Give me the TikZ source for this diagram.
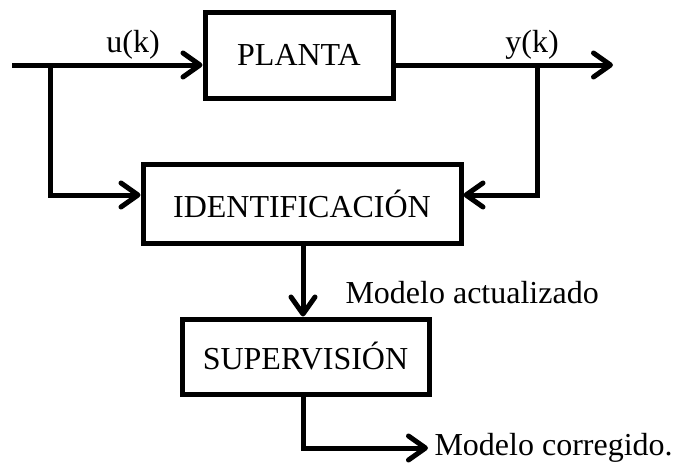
\documentclass[tikz,border=0pt]{standalone}
\usepackage{fontspec}
\setmainfont{Liberation Serif}
\usetikzlibrary{arrows.meta}
\begin{document}
\begin{tikzpicture}[x=1pt,y=-1pt, line width=5pt,
  blockbox/.style={draw, line width=5pt, inner sep=0pt, font=\fontsize{32}{38}\selectfont},
  lbl/.style={font=\fontsize{32}{38}\selectfont, inner sep=0pt},
  arr/.style={-{Straight Barb[length=17pt,width=24pt,line cap=round,line join=round]}}]
\useasboundingbox (0,0) rectangle (683,471);
\node[blockbox, minimum width=188pt, minimum height=86pt] (plant) at (299,55) {PLANTA};
\node[blockbox, minimum width=318pt, minimum height=79pt, text depth=-14pt] (ident) at (302,203.5) {IDENTIFICACIÓN};
\node[blockbox, minimum width=247pt, minimum height=75pt] (super) at (305.5,356.5) {SUPERVISIÓN};
\coordinate (in) at (12,65);
\coordinate (bl) at (50,65);
\coordinate (br) at (537,65);
\coordinate (out) at (613,65);
\coordinate (bly) at (50,195);
\coordinate (bry) at (537,195);
\coordinate (corner) at (303,448);
\coordinate (fin) at (428,448);
\draw[arr] (in) -- (in -| plant.west);
\draw[arr] (in -| plant.east) -- (out);
\draw[arr] (bl) -- (bly) -- (bly -| ident.west);
\draw[arr] (br) -- (bry) -- (bry -| ident.east);
\draw[arr] (corner |- ident.south) -- (corner |- super.north);
\draw[arr] (corner |- super.south) -- (corner) -- (fin);
\node[lbl] (u) at (133,45) {u(k)};
\node[lbl] (y) at (532,45) {y(k)};
\node[lbl, anchor=west] (ma) at (343,293) {Modelo actualizado};
\node[lbl, anchor=west] (mc) at (432,448) {Modelo corregido.};
\end{tikzpicture}
\end{document}
